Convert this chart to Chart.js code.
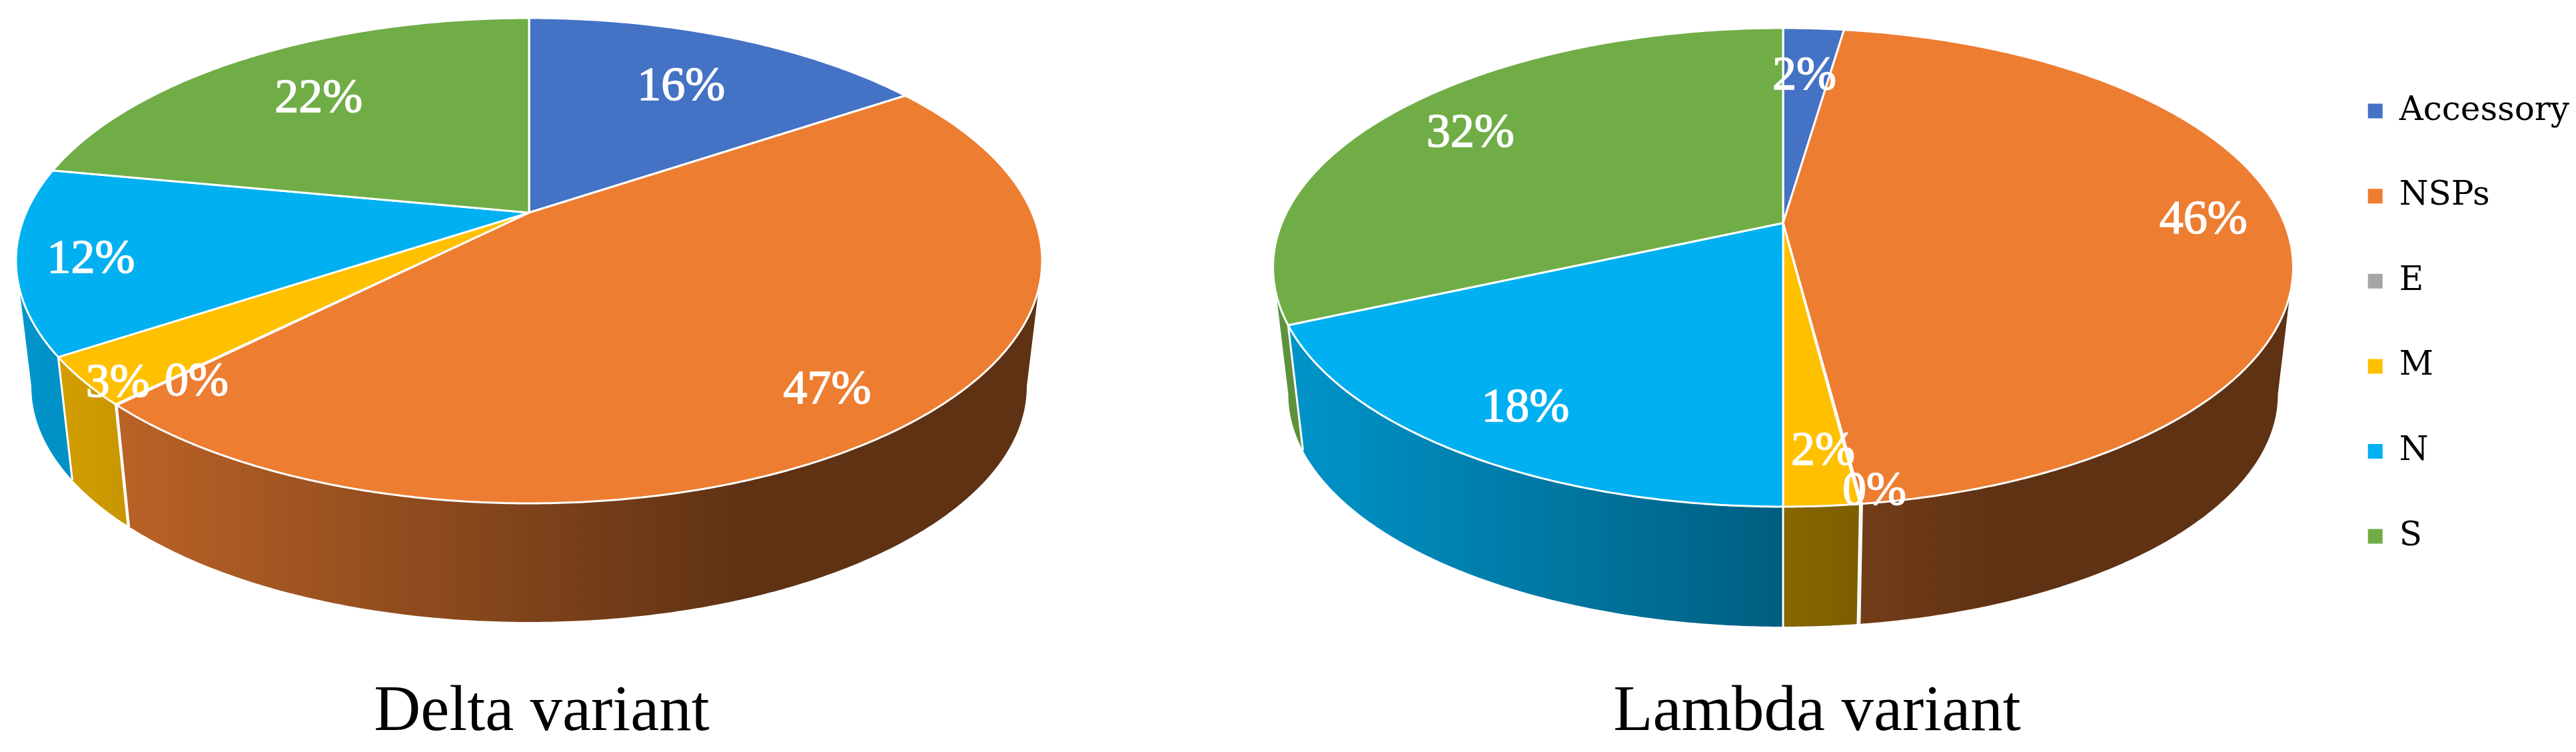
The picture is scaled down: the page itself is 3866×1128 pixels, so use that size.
<!DOCTYPE html>
<html lang="en">
<head>
  <meta charset="UTF-8">
  <title>Delta and Lambda variant</title>
  <script src="https://cdn.jsdelivr.net/npm/chart.js"></script>
  <style>
    body { margin: 0; background: #fff; }
    #page { position: relative; width: 3866px; height: 1128px; overflow: hidden; }
    canvas { position: absolute; top: 0; }
    #deltaChart { left: 0; }
    #lambdaChart { left: 1588px; }
  </style>
</head>
<body>
  <div id="page">
    <canvas id="deltaChart" width="1626" height="1128"></canvas>
    <canvas id="lambdaChart" width="2278" height="1128"></canvas>
  </div>

  <script>
    const categories = ['Accessory', 'NSPs', 'E', 'M', 'N', 'S'];
    const deltaValues = [15.6, 46.85, 0.05, 3.2, 12.3, 22.0];
    const lambdaValues = [2.3, 45.65, 0.05, 2.0, 18.3, 31.7];
    const sliceColors = ['#4472C4', '#ED7D31', '#A5A5A5', '#FFC000', '#00B0F0', '#70AD47'];

    // where each % label sits on its slice: fraction of the radius, and turn off the mid angle (deg)
    const deltaLabelRadius = [0.69, 0.84, 0.86, 0.96, 0.86, 0.71];
    const deltaLabelTurn = [1.3, 1.7, -2.7, -2.7, -1.8, -1.1];
    const lambdaLabelRadius = [0.72, 0.84, 0.97, 0.84, 0.83, 0.79];
    const lambdaLabelTurn = [-0.3, -1.1, -1.6, -1, -0.3, -1.2];

    const deltaView = { cx: 794, apexY: 319, back: 292, front: 436, halfWidth: 770, wallBottom: 933 };
    const lambdaView = { cx: 1088, apexY: 334.5, back: 292.5, front: 425.5, halfWidth: 765.5, wallBottom: 940 };

    const labelFont = '72px "Liberation Serif"';
    const titleFont = { family: '"Liberation Serif"', size: 97, weight: 'normal' };
    const wallShrink = 0.97;

    function shade(hex, f) {
      const n = parseInt(hex.slice(1), 16);
      return 'rgb(' + Math.round((n >> 16) * f) + ',' + Math.round(((n >> 8) & 255) * f) + ',' + Math.round((n & 255) * f) + ')';
    }

    function tiltOf(view) {
      return (view.front - view.back) / (view.front + view.back);
    }

    // perspective projection of the flat disc, Excel 3D pie style
    function projector(view) {
      const k = tiltOf(view);
      const A = view.halfWidth * Math.sqrt(1 - k * k);
      const B = view.front * (1 - k);
      const drop = view.wallBottom - view.apexY - wallShrink * view.front;
      return (angle, r, low) => {
        const u = Math.cos(angle) * r, v = Math.sin(angle) * r;
        const w = 1 - k * v, s = low ? wallShrink : 1;
        return { x: view.cx + s * A * u / w, y: view.apexY + (low ? drop : 0) + s * B * v / w };
      };
    }

    function arcPoints(project, start, end, low) {
      const pts = [];
      const steps = Math.max(2, Math.ceil((end - start) * 120));
      for (let i = 0; i <= steps; i++) {
        pts.push(project(start + (end - start) * i / steps, 1, low));
      }
      return pts;
    }

    const tiltedPie = {
      id: 'tiltedPie',
      beforeDatasetDraw(chart, args, opts) {
        const ctx = chart.ctx;
        const view = opts.view;
        const project = projector(view);
        const arcs = chart.getDatasetMeta(0).data;
        const colors = chart.data.datasets[0].backgroundColor;
        // the wall only shows between the two widest points of the disc
        const wallFrom = Math.asin(tiltOf(view));
        const wallTo = Math.PI - wallFrom;

        ctx.save();
        ctx.lineJoin = 'round';
        arcs.forEach((arc, i) => {
          const start = Math.max(arc.startAngle, wallFrom);
          const end = Math.min(arc.endAngle, wallTo);
          if (end <= start) return;
          const top = arcPoints(project, start, end, false);
          const low = arcPoints(project, start, end, true).reverse();
          const grad = ctx.createLinearGradient(view.cx - 770, 0, view.cx + 326, 0);
          grad.addColorStop(0, shade(colors[i], 0.85));
          grad.addColorStop(1, shade(colors[i], 0.40));
          ctx.fillStyle = grad;
          ctx.beginPath();
          top.concat(low).forEach((p, j) => j ? ctx.lineTo(p.x, p.y) : ctx.moveTo(p.x, p.y));
          ctx.closePath();
          ctx.fill();
        });
        // white seams on the visible part of the wall
        ctx.strokeStyle = '#fff';
        ctx.lineWidth = 3;
        arcs.forEach(arc => {
          if (arc.startAngle <= wallFrom || arc.startAngle >= wallTo) return;
          const a = project(arc.startAngle, 1, false), b = project(arc.startAngle, 1, true);
          ctx.beginPath();
          ctx.moveTo(a.x, a.y);
          ctx.lineTo(b.x, b.y);
          ctx.stroke();
        });
        // top faces
        arcs.forEach((arc, i) => {
          ctx.fillStyle = colors[i];
          ctx.beginPath();
          ctx.moveTo(view.cx, view.apexY);
          arcPoints(project, arc.startAngle, arc.endAngle, false).forEach(p => ctx.lineTo(p.x, p.y));
          ctx.closePath();
          ctx.fill();
          ctx.stroke();
        });
        ctx.restore();
        return false;
      },
      afterDatasetsDraw(chart, args, opts) {
        const ctx = chart.ctx;
        const project = projector(opts.view);
        const values = chart.data.datasets[0].data;
        ctx.save();
        ctx.font = labelFont;
        ctx.fillStyle = '#fff';
        ctx.strokeStyle = '#fff';
        ctx.lineWidth = 1.5;
        ctx.textAlign = 'center';
        ctx.textBaseline = 'middle';
        chart.getDatasetMeta(0).data.forEach((arc, i) => {
          const mid = (arc.startAngle + arc.endAngle) / 2 + opts.labelTurn[i] * Math.PI / 180;
          const p = project(mid, opts.labelRadius[i], false);
          const text = Math.round(values[i]) + '%';
          ctx.fillText(text, p.x, p.y);
          ctx.strokeText(text, p.x, p.y);
        });
        ctx.restore();
      }
    };

    function makePie(id, values, title, view, labelRadius, labelTurn, legendOn) {
      new Chart(document.getElementById(id), {
        type: 'pie',
        data: {
          labels: categories,
          datasets: [{ data: values, backgroundColor: sliceColors, borderWidth: 0 }]
        },
        options: {
          responsive: false,
          animation: false,
          layout: { padding: legendOn ? { top: 64 } : 0 },
          plugins: {
            tooltip: { enabled: false },
            tiltedPie: { view: view, labelRadius: labelRadius, labelTurn: labelTurn },
            title: {
              display: true,
              text: title,
              position: 'bottom',
              color: '#000',
              font: titleFont,
              padding: 0
            },
            legend: {
              display: legendOn,
              position: 'right',
              align: 'start',
              labels: {
                color: '#000',
                boxWidth: 22,
                boxHeight: 22,
                padding: 77.6,
                font: { family: '"DejaVu Serif"', size: 50 }
              }
            }
          }
        },
        plugins: [tiltedPie]
      });
    }

    makePie('deltaChart', deltaValues, 'Delta variant', deltaView, deltaLabelRadius, deltaLabelTurn, false);
    makePie('lambdaChart', lambdaValues, 'Lambda variant', lambdaView, lambdaLabelRadius, lambdaLabelTurn, true);
  </script>
</body>
</html>
